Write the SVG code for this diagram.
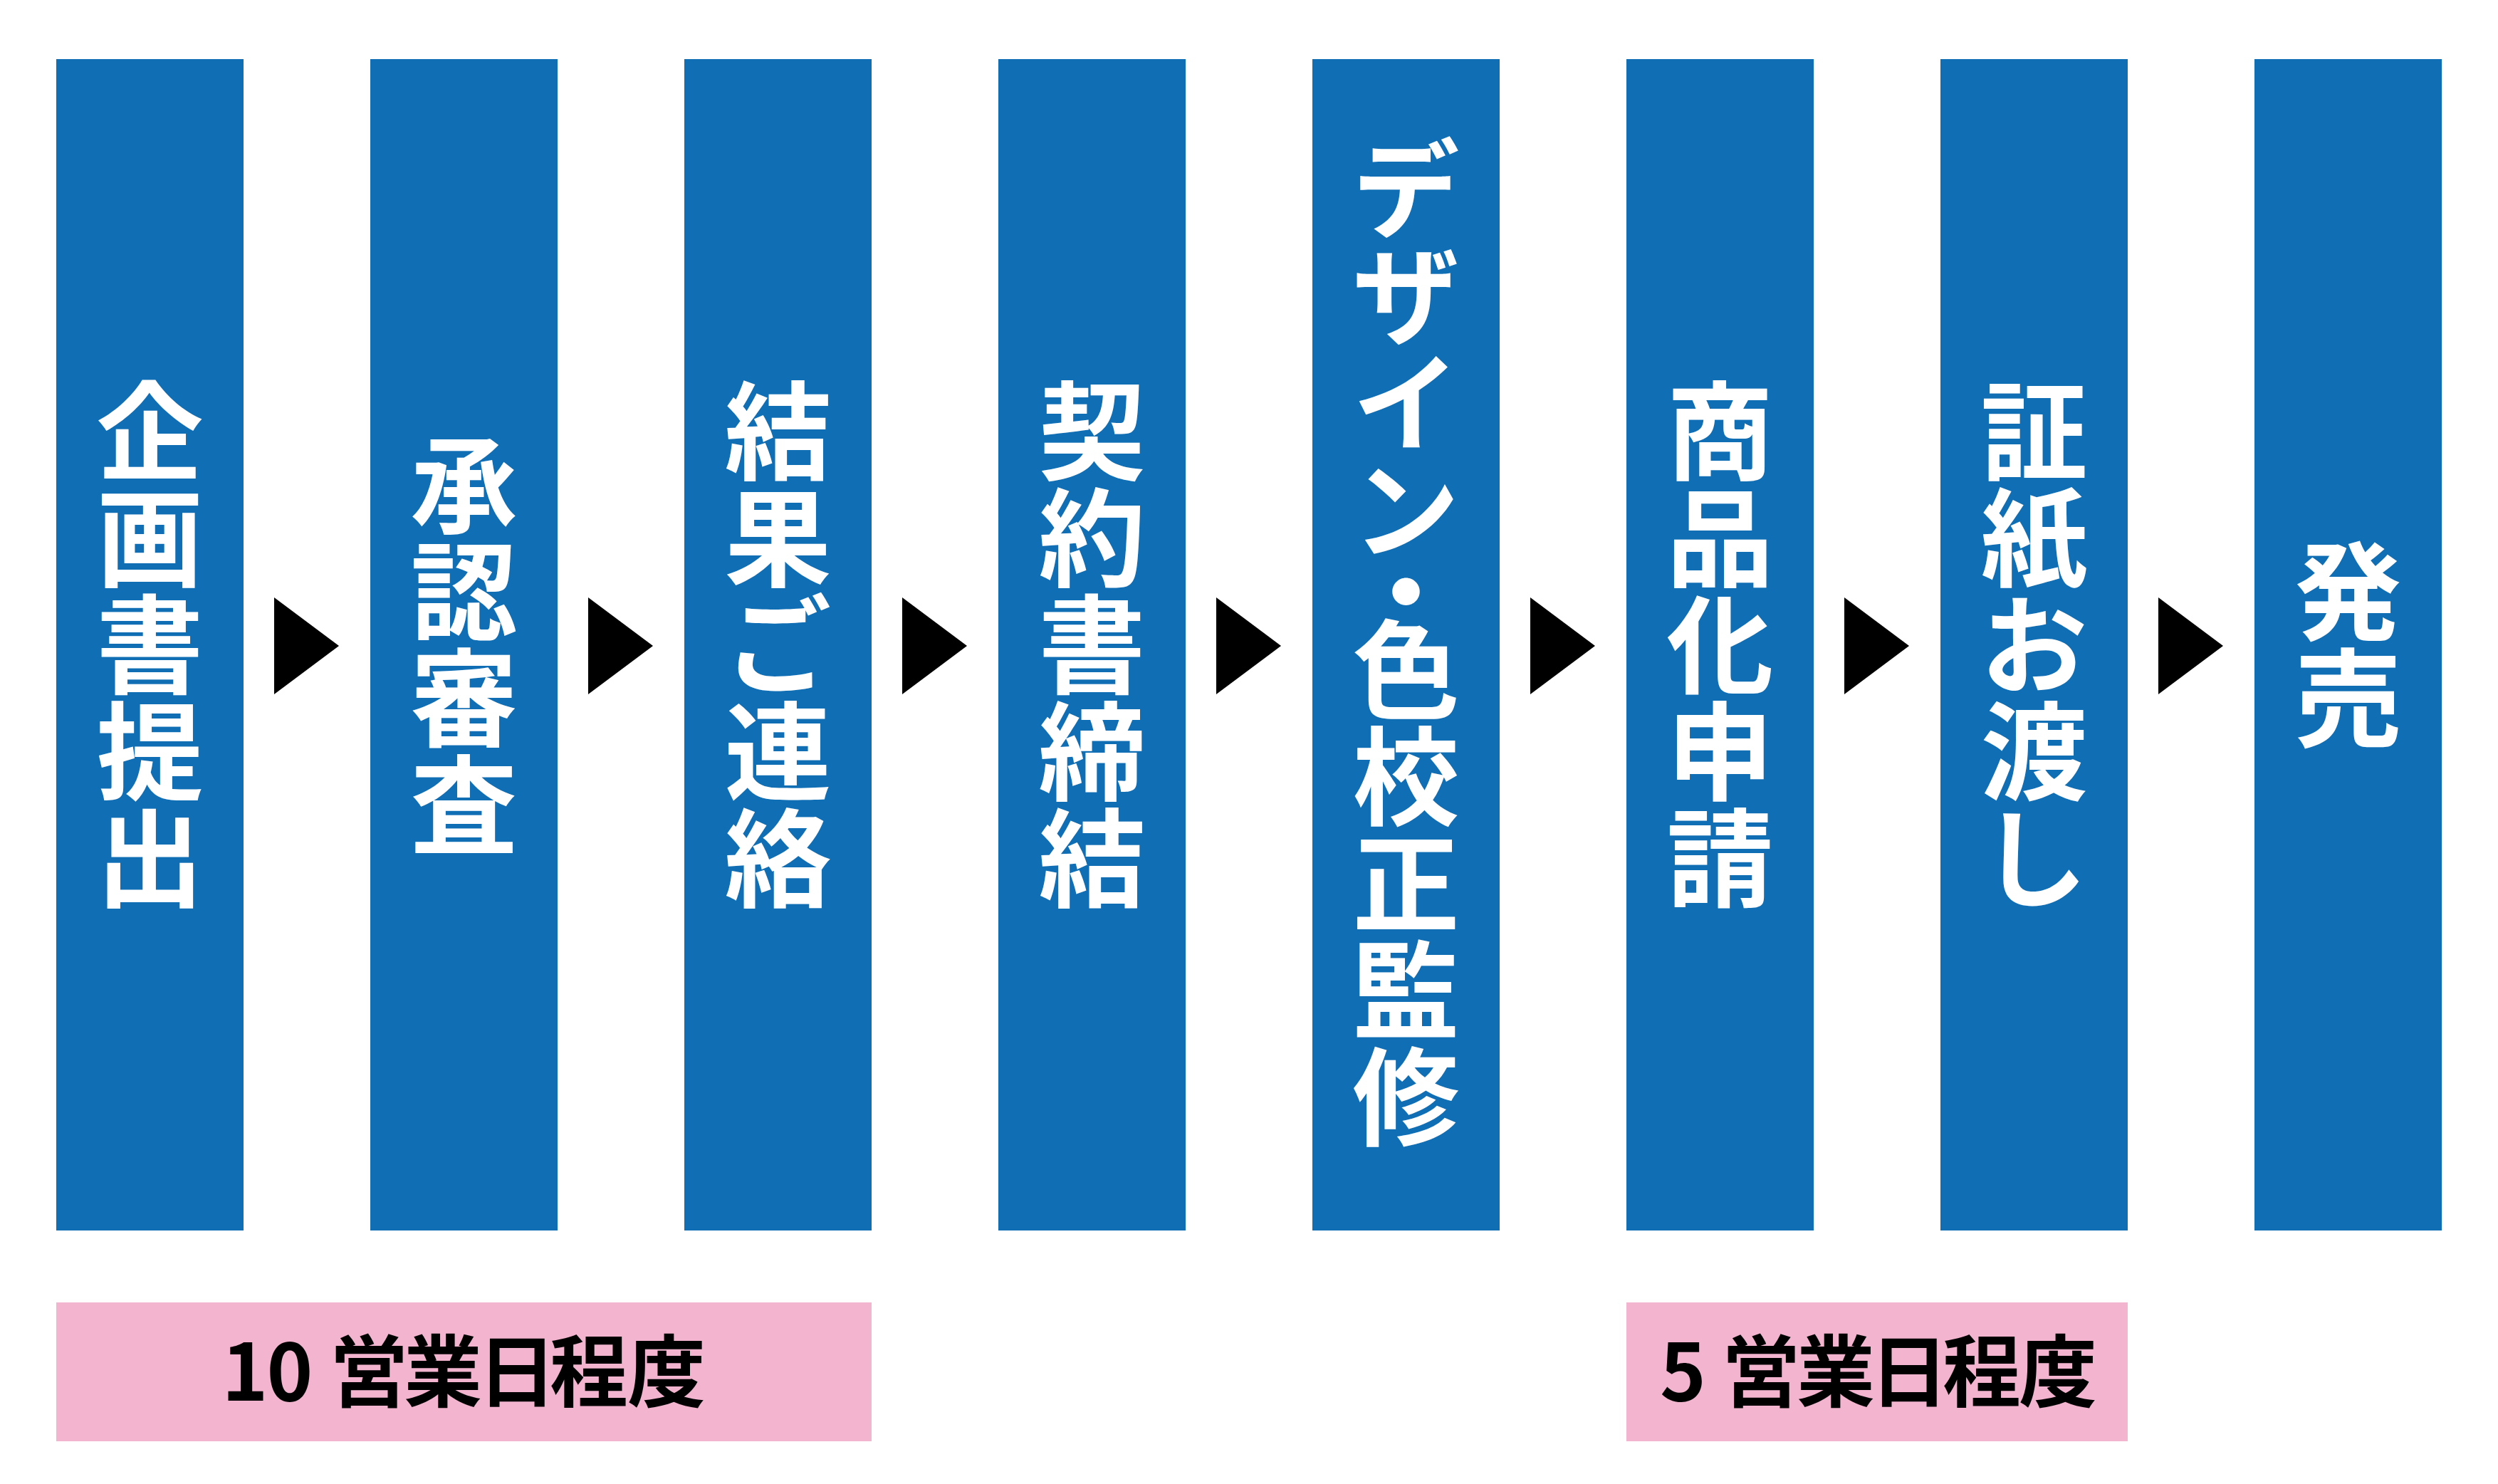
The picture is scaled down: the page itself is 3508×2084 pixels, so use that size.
<svg xmlns="http://www.w3.org/2000/svg" width="3508" height="2084" viewBox="0 0 3508 2084">
<style>
.col{fill:#106EB5}
.band{fill:#F2B4CF}
.v{font-family:"Noto Sans CJK JP","Noto Sans CJK SC",sans-serif;font-weight:700;font-size:150px;fill:#FFFFFF;text-anchor:middle}
.lbl{font-family:"Noto Sans CJK JP","Noto Sans CJK SC",sans-serif;font-weight:700;font-size:110px;fill:#000000;text-anchor:middle}
.arr{fill:#000000}
</style>
<rect x="0" y="0" width="3508" height="2084" fill="#FFFFFF"/>
<g id="step1">
<rect class="col" x="79" y="83" width="263" height="1645"/>
<text class="v"><tspan x="210.5" y="662">企</tspan><tspan x="210.5" y="812">画</tspan><tspan x="210.5" y="962">書</tspan><tspan x="210.5" y="1112">提</tspan><tspan x="210.5" y="1262">出</tspan></text>
</g>
<g id="step2">
<rect class="col" x="520" y="83" width="263" height="1645"/>
<text class="v"><tspan x="651.5" y="737">承</tspan><tspan x="651.5" y="887">認</tspan><tspan x="651.5" y="1037">審</tspan><tspan x="651.5" y="1187">査</tspan></text>
</g>
<g id="step3">
<rect class="col" x="961" y="83" width="263" height="1645"/>
<text class="v"><tspan x="1092.5" y="662">結</tspan><tspan x="1092.5" y="812">果</tspan><tspan x="1092.5" y="962">ご</tspan><tspan x="1092.5" y="1112">連</tspan><tspan x="1092.5" y="1262">絡</tspan></text>
</g>
<g id="step4">
<rect class="col" x="1402" y="83" width="263" height="1645"/>
<text class="v"><tspan x="1533.5" y="662">契</tspan><tspan x="1533.5" y="812">約</tspan><tspan x="1533.5" y="962">書</tspan><tspan x="1533.5" y="1112">締</tspan><tspan x="1533.5" y="1262">結</tspan></text>
</g>
<g id="step5">
<rect class="col" x="1843" y="83" width="263" height="1645"/>
<text class="v"><tspan x="1974.5" y="322">デ</tspan><tspan x="1974.5" y="472">ザ</tspan><tspan x="1974.5" y="622">イ</tspan><tspan x="1974.5" y="772">ン</tspan><tspan x="1974.5" y="888">・</tspan><tspan x="1974.5" y="997">色</tspan><tspan x="1974.5" y="1147">校</tspan><tspan x="1974.5" y="1297">正</tspan><tspan x="1974.5" y="1447">監</tspan><tspan x="1974.5" y="1597">修</tspan></text>
</g>
<g id="step6">
<rect class="col" x="2284" y="83" width="263" height="1645"/>
<text class="v"><tspan x="2415.5" y="662">商</tspan><tspan x="2415.5" y="812">品</tspan><tspan x="2415.5" y="962">化</tspan><tspan x="2415.5" y="1112">申</tspan><tspan x="2415.5" y="1262">請</tspan></text>
</g>
<g id="step7">
<rect class="col" x="2725" y="83" width="263" height="1645"/>
<text class="v"><tspan x="2856.5" y="662">証</tspan><tspan x="2856.5" y="812">紙</tspan><tspan x="2856.5" y="962">お</tspan><tspan x="2856.5" y="1112">渡</tspan><tspan x="2856.5" y="1262">し</tspan></text>
</g>
<g id="step8">
<rect class="col" x="3166" y="83" width="263" height="1645"/>
<text class="v"><tspan x="3297.5" y="887">発</tspan><tspan x="3297.5" y="1037">売</tspan></text>
</g>
<g id="connectors">
<polygon class="arr" points="385,839 476,907 385,975"/>
<polygon class="arr" points="826,839 917,907 826,975"/>
<polygon class="arr" points="1267,839 1358,907 1267,975"/>
<polygon class="arr" points="1708,839 1799,907 1708,975"/>
<polygon class="arr" points="2149,839 2240,907 2149,975"/>
<polygon class="arr" points="2590,839 2681,907 2590,975"/>
<polygon class="arr" points="3031,839 3122,907 3031,975"/>
</g>
<g id="period1">
<rect class="band" x="79" y="1829" width="1145" height="195"/>
<text class="lbl" x="344 407 450 518 622 726 827 936" y="1967">10 営業日程度</text>
</g>
<g id="period2">
<rect class="band" x="2284" y="1829" width="704" height="195"/>
<text class="lbl" x="2363.5 2410 2473 2578 2681 2783 2890" y="1967">5 営業日程度</text>
</g>
</svg>
